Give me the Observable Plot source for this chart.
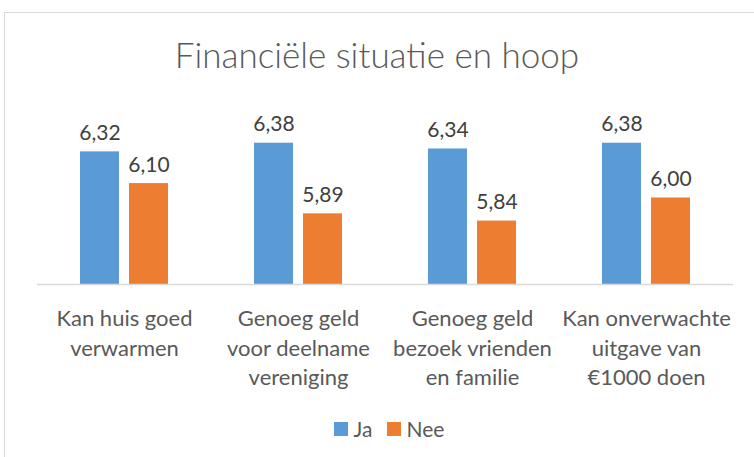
<!DOCTYPE html>
<html>
<head>
<meta charset="utf-8">
<script src="https://cdn.jsdelivr.net/npm/d3@7"></script>
<script src="https://cdn.jsdelivr.net/npm/@observablehq/plot@0.6"></script>
<style>
  html, body { margin: 0; padding: 0; background: #fff; }
  body { width: 754px; height: 457px; position: relative; overflow: hidden; font-family: Lato, "Open Sans", sans-serif; color: #595959; }
  #frame { position: absolute; left: 4px; top: 12px; width: 800px; height: 500px; border: 1px solid #d9d9d9; box-sizing: border-box; }
  #title { position: absolute; left: 0; width: 754px; top: 34px; text-align: center; font-size: 35px; font-weight: 300; color: #595959; line-height: 40px; }
  #chart { position: absolute; left: 0; top: 80px; }
  #legend { position: absolute; left: 12px; width: 754px; top: 416px; display: flex; justify-content: center; align-items: center; font-size: 21px; color: #595959; line-height: 26px; }
  .sw { display: inline-block; width: 14px; height: 14px; margin-right: 6px; }
  .item { display: flex; align-items: center; margin: 0 7px; }
</style>
</head>
<body>
<div id="frame"></div>
<div id="title">Financiële situatie en hoop</div>
<div id="chart"></div>
<div id="legend"></div>
<script>
const categories = [
  "Kan huis goed\nverwarmen",
  "Genoeg geld\nvoor deelname\nvereniging",
  "Genoeg geld\nbezoek vrienden\nen familie",
  "Kan onverwachte\nuitgave van\n€1000 doen"
];
const seriesNames = ["Ja", "Nee"];
const jaValues = [6.32, 6.38, 6.34, 6.38];
const neeValues = [6.10, 5.89, 5.84, 6.00];
const seriesColors = ["#5B9BD5", "#ED7D31"];
const yMin = 5.4;
const yMax = 6.6;

const data = [];
categories.forEach((c, i) => {
  data.push({category: c, series: "Ja", value: jaValues[i]});
  data.push({category: c, series: "Nee", value: neeValues[i]});
});

const fmt = v => d3.format(".2f")(v).replace(".", ",");

const plot = Plot.plot({
  width: 754,
  height: 330,
  marginTop: 31,
  marginBottom: 126,
  marginLeft: 36,
  marginRight: 20,
  style: { fontFamily: "Lato, 'Open Sans', sans-serif", background: "transparent" },
  fx: { domain: categories, padding: 0, label: null, axis: null },
  x: { domain: seriesNames, paddingInner: 0.21, paddingOuter: 0.87, axis: null },
  y: { domain: [yMin, yMax], axis: null },
  color: { domain: seriesNames, range: seriesColors },
  marks: [
    Plot.barY(data, { fx: "category", x: "series", y1: () => yMin, y2: "value", fill: "series" }),
    Plot.ruleY([yMin], { stroke: "#d9d9d9", strokeWidth: 1.5 }),
    Plot.text(data, { fx: "category", x: "series", y: "value", text: d => fmt(d.value), lineAnchor: "bottom", dy: -12, fontSize: 21, fill: "#404040" }),
    Plot.axisFx({ anchor: "bottom", tickSize: 0, tickPadding: 21, fontSize: 22, lineHeight: 1.34, fill: "#595959", label: null, lineAnchor: "top" })
  ]
});
document.getElementById("chart").appendChild(plot);

const legend = document.getElementById("legend");
seriesNames.forEach((s, i) => {
  const item = document.createElement("span");
  item.className = "item";
  const sw = document.createElement("span");
  sw.className = "sw";
  sw.style.background = seriesColors[i];
  item.appendChild(sw);
  item.appendChild(document.createTextNode(s));
  legend.appendChild(item);
});
</script>
</body>
</html>
